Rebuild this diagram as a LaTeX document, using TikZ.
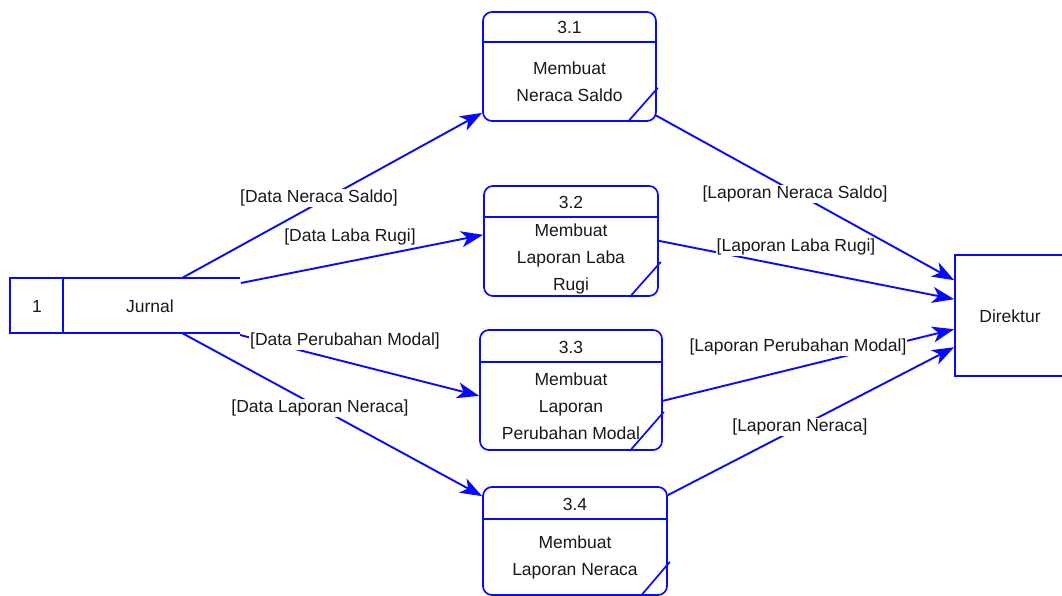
\documentclass[tikz,border=0pt]{standalone}
\usepackage{fontspec}
\setmainfont{Liberation Sans}
\usetikzlibrary{arrows.meta}
\definecolor{dfdblue}{RGB}{10,10,250}
\tikzset{
  line/.style={draw=dfdblue, line width=1.9pt},
  proc/.style={draw=dfdblue, line width=1.7pt, rounded corners=9pt, rectangle, inner sep=0pt, fill=white},
  ent/.style={draw=dfdblue, line width=1.6pt, rectangle, inner sep=0pt},
  txt/.style={inner sep=0pt, align=center, font=\fontsize{17.5}{27}\selectfont, text=black!90},
  lbl/.style={inner sep=1pt, fill=white, font=\fontsize{17.5}{20}\selectfont, text=black!90},
  flow/.style={line, -{Stealth[length=22pt,width=16pt,inset=6pt]}},
}
\begin{document}
\begin{tikzpicture}[x=1pt,y=-1pt]
\useasboundingbox (0,0) rectangle (1062,596);
\begin{scope}
\clip (0,0) rectangle (1062,596);

% data store
\coordinate (dsTL) at (10,278);
\coordinate (dsBL) at (10,333);
\coordinate (dsTR) at (240,278);
\coordinate (dsBR) at (240,333);
\draw[line, line width=1.6pt] (dsTR) -- (dsTL) -- (dsBL) -- (dsBR);
\draw[line, line width=1.6pt] (63,278) -- (63,333);
\node[txt] (dsnum) at (37,306) {1};
\node[txt] (dsname) at (150,306) {Jurnal};

% external entity
\node[ent, minimum width=125pt, minimum height=121pt] (dir) at (1017.5,315.5) {};
\node[txt] (dirt) at (1010,316) {Direktur};

% processes
\node[proc, minimum width=173pt, minimum height=109pt] (p1) at (569.5,66.5) {};
\node[proc, minimum width=174pt, minimum height=110pt] (p2) at (571,241) {};
\node[proc, minimum width=182pt, minimum height=120pt] (p3) at (571,390) {};
\node[proc, minimum width=184pt, minimum height=108pt] (p4) at (575,541) {};

\draw[line, line width=1.7pt] ([yshift=-31pt]p1.north west) -- ([yshift=-31pt]p1.north east);
\draw[line, line width=1.7pt] ([yshift=-32pt]p2.north west) -- ([yshift=-32pt]p2.north east);
\draw[line, line width=1.7pt] ([yshift=-33pt]p3.north west) -- ([yshift=-33pt]p3.north east);
\draw[line, line width=1.7pt] ([yshift=-33pt]p4.north west) -- ([yshift=-33pt]p4.north east);

\draw[line, line width=1.7pt] ([xshift=-29pt]p1.south east) -- ([xshift=1pt,yshift=34pt]p1.south east);
\draw[line, line width=1.7pt] ([xshift=-29pt]p2.south east) -- ([xshift=2pt,yshift=35pt]p2.south east);
\draw[line, line width=1.7pt] ([xshift=-33pt]p3.south east) -- ([xshift=1pt,yshift=39pt]p3.south east);
\draw[line, line width=1.7pt] ([xshift=-27pt]p4.south east) -- ([xshift=2pt,yshift=34pt]p4.south east);

\node[txt] (p1n) at (569.5,27) {3.1};
\node[txt] (p1t) at (569.5,82) {Membuat\\Neraca Saldo};
\node[txt] (p2n) at (571,202) {3.2};
\node[txt] (p2t) at (571,259) {Membuat\\Laporan Laba\\Rugi};
\node[txt] (p3n) at (571,347) {3.3};
\node[txt] (p3t) at (571,406.5) {Membuat\\Laporan\\Perubahan Modal};
\node[txt] (p4n) at (575,504) {3.4};
\node[txt] (p4t) at (575,557.5) {Membuat\\Laporan Neraca};

% connector end points
\coordinate (s1) at (182,278);
\coordinate (s2) at (241,283);
\coordinate (s3) at (240,335);
\coordinate (s4) at (182,333);
\coordinate (e1) at ([yshift=9pt]p1.south west);
\coordinate (e2) at ([yshift=62pt]p2.south west);
\coordinate (e3) at ([yshift=55pt]p3.south west);
\coordinate (e4) at ([yshift=-10pt]p4.north west);
\coordinate (o1) at ([xshift=-2pt,yshift=7pt]p1.south east);
\coordinate (o2) at ([yshift=56pt]p2.south east);
\coordinate (o3) at ([yshift=50pt]p3.south east);
\coordinate (o4) at ([yshift=-9pt]p4.north east);
\coordinate (d1) at ([yshift=-26pt]dir.north west);
\coordinate (d2) at ([yshift=-45pt]dir.north west);
\coordinate (d3) at ([yshift=-75pt]dir.north west);
\coordinate (d4) at ([yshift=-93pt]dir.north west);

\draw[flow] (s1) -- (e1);
\draw[flow] (s2) -- (e2);
\draw[flow] (s3) -- (e3);
\draw[flow] (s4) -- (e4);
\draw[flow] (o1) -- (d1);
\draw[flow] (o2) -- (d2);
\draw[flow] (o3) -- (d3);
\draw[flow] (o4) -- (d4);

% labels
\node[lbl] (l1) at (319,198) {[Data Neraca Saldo]};
\node[lbl, fill=none] (l2) at (350,237) {[Data Laba Rugi]};
\node[lbl] (l3) at (345,341) {[Data Perubahan Modal]};
\node[lbl] (l4) at (320,408) {[Data Laporan Neraca]};
\node[lbl] (l5) at (795,194) {[Laporan Neraca Saldo]};
\node[lbl] (l6) at (796,247) {[Laporan Laba Rugi]};
\node[lbl] (l7) at (798,347) {[Laporan Perubahan Modal]};
\node[lbl] (l8) at (800,427) {[Laporan Neraca]};
\end{scope}
\end{tikzpicture}
\end{document}
